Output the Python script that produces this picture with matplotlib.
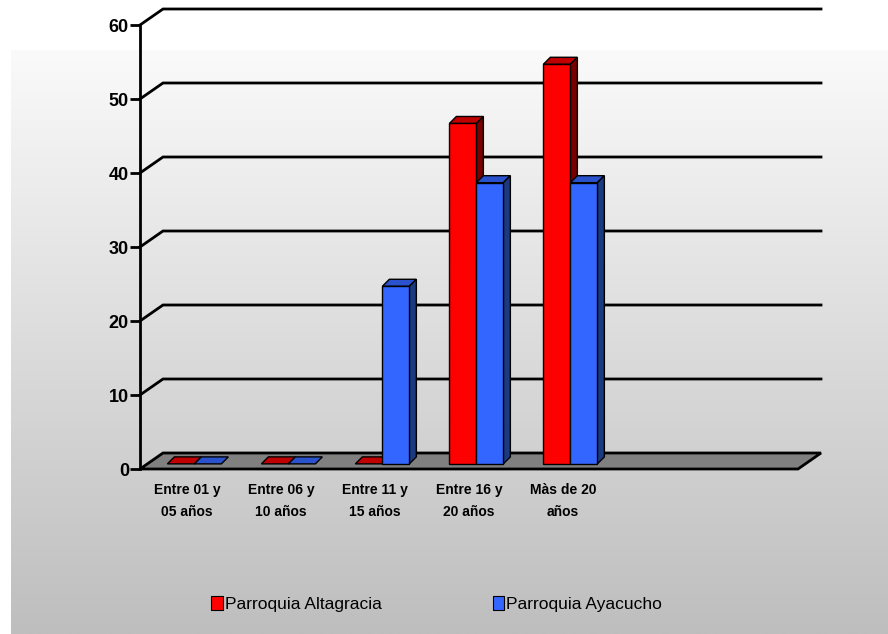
import numpy as np
import matplotlib
matplotlib.use("Agg")
import matplotlib.pyplot as plt
from matplotlib.patches import Polygon, Patch

plt.rcParams['font.family'] = ['Liberation Sans', 'DejaVu Sans']

categories = ["Entre 01 y\n05 años", "Entre 06 y\n10 años", "Entre 11 y\n15 años",
              "Entre 16 y\n20 años", "Màs de 20\naños"]
n_slots = 7
series_names = ["Parroquia Altagracia", "Parroquia Ayacucho"]
altagracia = [0, 0, 0, 46, 54]
ayacucho = [0, 0, 24, 38, 38]
series_values = [altagracia, ayacucho]
yticks = [0, 10, 20, 30, 40, 50, 60]

front_cols = ["#FF0000", "#3366FF"]
top_cols = ["#C00000", "#2A52CC"]
side_cols = ["#7A0000", "#1C3A80"]

W, H = 888, 634
fig = plt.figure(figsize=(W / 100, H / 100), dpi=100)

# background gradient
bg = fig.add_axes([0, 0, 1, 1])
bg.set_xlim(0, W)
bg.set_ylim(H, 0)
bg.axis('off')
grad = np.linspace(250, 190, 256)[:, None] / 255.0
bg.imshow(np.dstack([grad, grad, grad]), extent=(11, W, H, 50), aspect='auto',
          interpolation='bilinear')

# main axes (front plane)
x_left, x_right = 140, 798
y0_px, y60_px = 469, 25
ax = fig.add_axes([x_left / W, (H - y0_px) / H, (x_right - x_left) / W, (y0_px - y60_px) / H])
ax.set_xlim(0, n_slots)
ax.set_ylim(0, 60)
ax.patch.set_visible(False)

px_per_cat = (x_right - x_left) / n_slots
px_per_val = (y0_px - y60_px) / 60.0
DX = 23 / px_per_cat
DY = 16 / px_per_val
BDX = 7 / px_per_cat   # bar depth (perspective)
BDY = 7 / px_per_val


def P(x, y, d):
    return (x + d * DX, y + d * DY)


def Q(x, y, d0):
    px, py = P(x, y, d0)
    return (px + BDX, py + BDY)


# floor
floor = Polygon([P(0, 0, 0), P(n_slots, 0, 0), P(n_slots, 0, 1), P(0, 0, 1)],
                closed=True, facecolor="#808080", edgecolor="black", lw=2,
                clip_on=False, zorder=1, joinstyle='miter')
ax.add_patch(floor)

# gridlines (side wall diagonal + back wall)
for v in yticks[1:]:
    pts = [P(0, v, 0), P(0, v, 1), P(n_slots, v, 1)]
    ax.plot([p[0] for p in pts], [p[1] for p in pts], color="black", lw=2,
            clip_on=False, zorder=0.5, solid_joinstyle='miter')

# bars
w = 27 / px_per_cat
d0 = 0.32
z = 2
for i in range(len(categories)):
    left = i + 0.5 - w
    for s, vals in enumerate(series_values):
        v = vals[i]
        xa = left + s * w
        xb = xa + w
        top = Polygon([P(xa, v, d0), P(xb, v, d0), Q(xb, v, d0), Q(xa, v, d0)],
                      closed=True, facecolor=top_cols[s], edgecolor="black", lw=1,
                      clip_on=False, zorder=z)
        ax.add_patch(top)
        if v > 0:
            side = Polygon([P(xb, 0, d0), Q(xb, 0, d0), Q(xb, v, d0), P(xb, v, d0)],
                           closed=True, facecolor=side_cols[s], edgecolor="black", lw=1,
                           clip_on=False, zorder=z)
            front = Polygon([P(xa, 0, d0), P(xb, 0, d0), P(xb, v, d0), P(xa, v, d0)],
                            closed=True, facecolor=front_cols[s], edgecolor="black", lw=1,
                            clip_on=False, zorder=z)
            ax.add_patch(side)
            ax.add_patch(front)
        z += 1

# axes styling
for sp in ['top', 'right', 'bottom']:
    ax.spines[sp].set_visible(False)
ax.spines['left'].set_linewidth(2)
ax.spines['left'].set_zorder(0.6)
ax.set_yticks(yticks)
ax.set_yticklabels([str(t) for t in yticks], fontsize=13, fontweight='bold')
ax.tick_params(axis='y', length=7, width=2, pad=1)
ax.set_xticks([i + 0.5 for i in range(len(categories))])
ax.set_xticklabels(categories, fontsize=10, fontweight='bold', linespacing=1.75)
ax.tick_params(axis='x', length=0, pad=10)

# legend
handles = [Patch(facecolor=front_cols[k], edgecolor="black", lw=0.8) for k in range(2)]
fig.legend(handles, series_names, loc='center', bbox_to_anchor=(0.4916, (H - 604) / H),
           ncol=2, frameon=False, fontsize=12.5, handlelength=0.68, handleheight=0.82,
           handletextpad=0.12, columnspacing=6.4, borderpad=0)

fig.savefig("out.png", dpi=100)
